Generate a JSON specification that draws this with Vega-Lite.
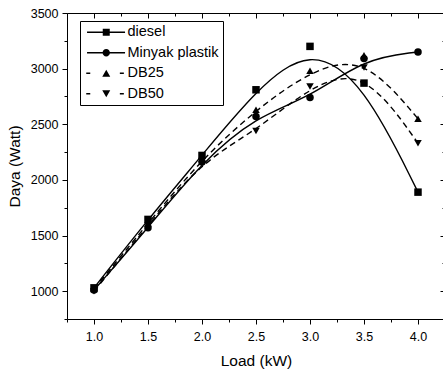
{
  "$schema": "https://vega.github.io/schema/vega-lite/v6.json",
  "width": 378,
  "height": 306,
  "autosize": {"type": "none"},
  "padding": {"left": 67, "top": 13, "right": 0, "bottom": 50},
  "background": "white",
  "config": {
    "view": {"stroke": null},
    "font": "Liberation Sans",
    "style": {"guide-title": {"fontWeight": "normal"}, "guide-label": {"fontWeight": "normal"}},
    "axis": {
      "domainColor": "black",
      "domainWidth": 1,
      "tickColor": "black",
      "tickWidth": 1,
      "labelColor": "black",
      "labelFont": "Liberation Sans",
      "labelFontSize": 12.5,
      "labelFontWeight": "normal",
      "titleFont": "Liberation Sans",
      "titleFontSize": 15.5,
      "titleFontWeight": "normal",
      "titleColor": "black",
      "grid": false,
      "labelFlush": false,
      "labelOverlap": false
    }
  },
  "data": {
    "values": [
      {"series": "diesel", "load": 1.0, "daya": 1030},
      {"series": "diesel", "load": 1.5, "daya": 1645},
      {"series": "diesel", "load": 2.0, "daya": 2220},
      {"series": "diesel", "load": 2.5, "daya": 2810},
      {"series": "diesel", "load": 3.0, "daya": 3200},
      {"series": "diesel", "load": 3.5, "daya": 2870},
      {"series": "diesel", "load": 4.0, "daya": 1890},
      {"series": "Minyak plastik", "load": 1.0, "daya": 1010},
      {"series": "Minyak plastik", "load": 1.5, "daya": 1570},
      {"series": "Minyak plastik", "load": 2.0, "daya": 2160},
      {"series": "Minyak plastik", "load": 2.5, "daya": 2570},
      {"series": "Minyak plastik", "load": 3.0, "daya": 2740},
      {"series": "Minyak plastik", "load": 3.5, "daya": 3090},
      {"series": "Minyak plastik", "load": 4.0, "daya": 3150},
      {"series": "DB25", "load": 1.0, "daya": 1020},
      {"series": "DB25", "load": 1.5, "daya": 1610},
      {"series": "DB25", "load": 2.0, "daya": 2190},
      {"series": "DB25", "load": 2.5, "daya": 2630},
      {"series": "DB25", "load": 3.0, "daya": 2980},
      {"series": "DB25", "load": 3.5, "daya": 3120},
      {"series": "DB25", "load": 4.0, "daya": 2550},
      {"series": "DB50", "load": 1.0, "daya": 1000},
      {"series": "DB50", "load": 1.5, "daya": 1590},
      {"series": "DB50", "load": 2.0, "daya": 2170},
      {"series": "DB50", "load": 2.5, "daya": 2440},
      {"series": "DB50", "load": 3.0, "daya": 2840},
      {"series": "DB50", "load": 3.5, "daya": 3010},
      {"series": "DB50", "load": 4.0, "daya": 2330}
    ]
  },
  "layer": [
    {
      "transform": [{"filter": "datum.series === 'diesel' || datum.series === 'Minyak plastik'"}],
      "mark": {"type": "line", "interpolate": "basis", "color": "black", "strokeWidth": 1.4},
      "encoding": {
        "x": {
          "field": "load", "type": "quantitative",
          "scale": {"domain": [0.75, 4.25], "nice": false, "zero": false},
          "axis": {
            "orient": "bottom",
            "title": "Load (kW)",
            "titleFontWeight": "normal",
            "values": [0.75, 1.0, 1.25, 1.5, 1.75, 2.0, 2.25, 2.5, 2.75, 3.0, 3.25, 3.5, 3.75, 4.0, 4.25],
            "labelExpr": "abs(datum.value*2 - round(datum.value*2)) < 0.001 ? format(datum.value, '.1f') : ''",
            "tickSize": {"condition": {"test": "abs(datum.value*2 - round(datum.value*2)) < 0.001", "value": 5}, "value": 3},
            "labelPadding": 6,
            "titlePadding": 11
          }
        },
        "y": {
          "field": "daya", "type": "quantitative",
          "scale": {"domain": [750, 3500], "nice": false, "zero": false},
          "axis": {
            "orient": "left",
            "title": "Daya (Watt)",
            "titleFontWeight": "normal",
            "values": [750, 1000, 1250, 1500, 1750, 2000, 2250, 2500, 2750, 3000, 3250, 3500],
            "labelExpr": "datum.value % 500 === 0 ? format(datum.value, 'd') : ''",
            "tickSize": {"condition": {"test": "datum.value % 500 === 0", "value": 5}, "value": 3},
            "labelPadding": 4,
            "titlePadding": 8
          }
        },
        "detail": {"field": "series"}
      }
    },
    {
      "transform": [{"filter": "datum.series === 'DB25' || datum.series === 'DB50'"}],
      "mark": {"type": "line", "interpolate": "basis", "color": "black", "strokeWidth": 1.4, "strokeDash": [6, 4]},
      "encoding": {
        "x": {"field": "load", "type": "quantitative", "scale": {"domain": [0.75, 4.25], "nice": false, "zero": false}, "axis": null},
        "y": {"field": "daya", "type": "quantitative", "scale": {"domain": [750, 3500], "nice": false, "zero": false}, "axis": null},
        "detail": {"field": "series"}
      }
    },
    {
      "mark": {"type": "point", "filled": true, "color": "black", "opacity": 1, "size": 56},
      "encoding": {
        "x": {
          "field": "load", "type": "quantitative",
          "scale": {"domain": [0.75, 4.25], "nice": false, "zero": false},
          "axis": {
            "orient": "top",
            "title": null,
            "labels": false,
            "values": [0.75, 1.0, 1.25, 1.5, 1.75, 2.0, 2.25, 2.5, 2.75, 3.0, 3.25, 3.5, 3.75, 4.0, 4.25],
            "tickSize": {"condition": {"test": "abs(datum.value*2 - round(datum.value*2)) < 0.001", "value": -5}, "value": -3}
          }
        },
        "y": {
          "field": "daya", "type": "quantitative",
          "scale": {"domain": [750, 3500], "nice": false, "zero": false},
          "axis": {
            "orient": "right",
            "title": null,
            "labels": false,
            "values": [750, 1000, 1250, 1500, 1750, 2000, 2250, 2500, 2750, 3000, 3250, 3500],
            "tickSize": {"condition": {"test": "datum.value % 500 === 0", "value": -5}, "value": -3}
          }
        },
        "shape": {
          "field": "series", "type": "nominal",
          "scale": {"domain": ["diesel", "Minyak plastik", "DB25", "DB50"], "range": ["square", "circle", "triangle-up", "triangle-down"]},
          "legend": null
        }
      }
    },
    {
      "mark": {"type": "point", "filled": true, "color": "black", "opacity": 0, "size": 64},
      "encoding": {
        "x": {"field": "load", "type": "quantitative", "scale": {"domain": [0.75, 4.25], "nice": false, "zero": false}, "axis": null},
        "y": {"field": "daya", "type": "quantitative", "scale": {"domain": [750, 3500], "nice": false, "zero": false}, "axis": null},
        "shape": {
          "field": "series", "type": "nominal",
          "scale": {
            "domain": ["diesel", "Minyak plastik", "DB25", "DB50"],
            "range": [
              "M-4.8,-0.175H4.7V0.175H-4.8ZM-0.875,-0.875H0.875V0.875H-0.875Z",
              "M-4.8,-0.175H4.7V0.175H-4.8ZM-0.92,0A0.92,0.92,0,1,1,0.92,0A0.92,0.92,0,1,1,-0.92,0Z",
              "M-5,-0.175H-4V0.175H-5ZM3.4,-0.175H4.4V0.175H3.4ZM0,-0.9L1,0.85H-1Z",
              "M-5,-0.175H-4V0.175H-5ZM3.4,-0.175H4.4V0.175H3.4ZM0,0.9L-1,-0.85H1Z"
            ]
          },
          "legend": {
            "title": null,
            "orient": "none",
            "legendX": 13,
            "legendY": 8,
            "fillColor": "white",
            "strokeColor": "black",
            "padding": 4,
            "symbolSize": 64,
            "symbolOffset": 15,
            "labelOffset": 14,
            "labelFontSize": 14.5,
            "labelFontWeight": "normal",
            "labelFont": "Liberation Sans",
            "labelColor": "black",
            "rowPadding": 5.5,
            "symbolFillColor": "black",
            "symbolOpacity": 1,
            "encode": {
              "symbols": {
                "opacity": {"value": 1},
                "fill": {"value": "black"}
              }
            }
          }
        }
      }
    }
  ],
  "resolve": {
    "axis": {"x": "independent", "y": "independent"},
    "scale": {"shape": "independent"},
    "legend": {"shape": "independent"}
  }
}
